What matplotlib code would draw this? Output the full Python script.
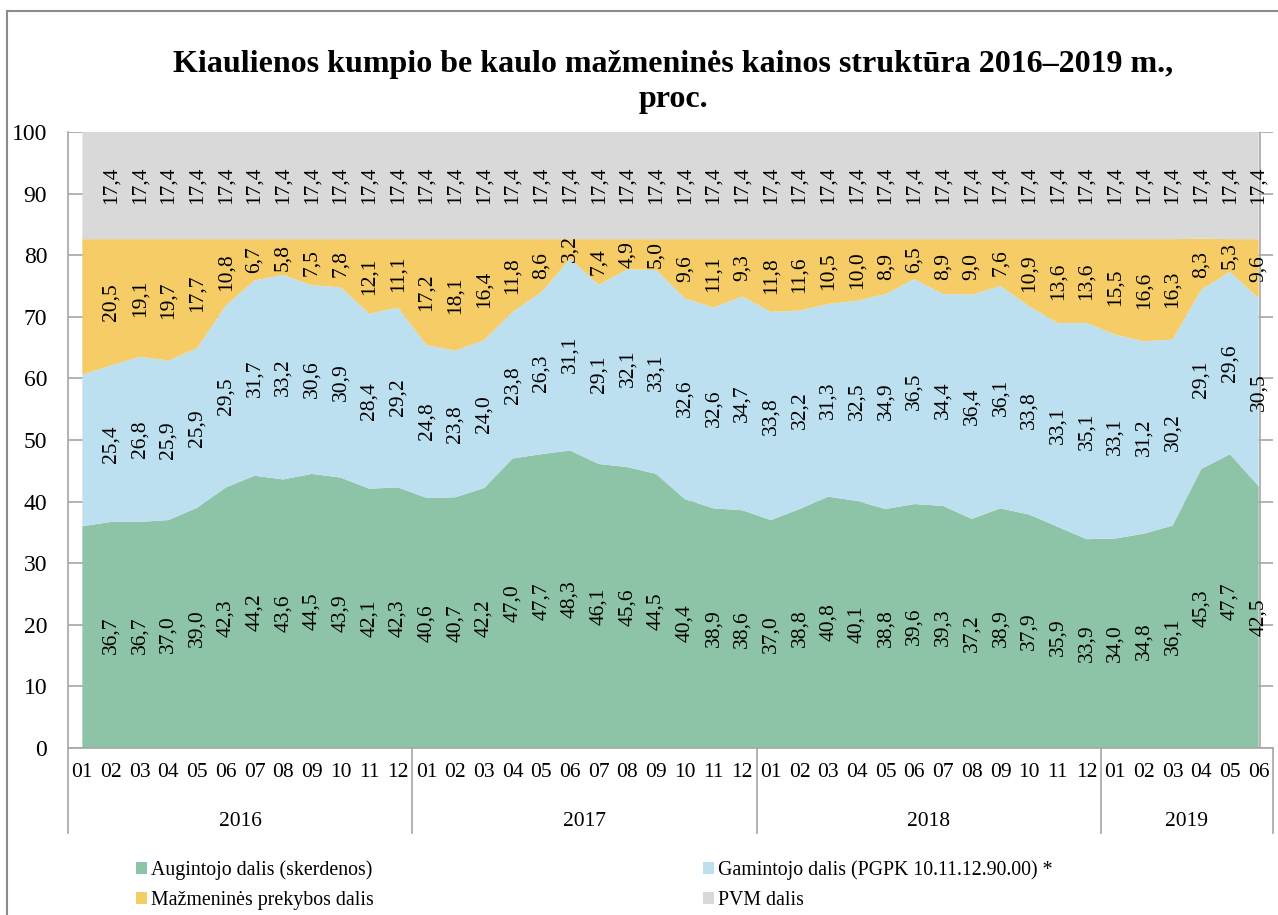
import matplotlib

matplotlib.use("Agg")
import matplotlib.pyplot as plt
from matplotlib.patches import Rectangle

plt.rcParams["font.family"] = ["Liberation Serif", "DejaVu Serif"]

years = ["2016", "2017", "2018", "2019"]
months_per_year = [12, 12, 12, 6]

# first point (2016-01) has no data label in the source chart
augintojo = [
    36.0, 36.7, 36.7, 37.0, 39.0, 42.3, 44.2, 43.6, 44.5, 43.9, 42.1, 42.3,
    40.6, 40.7, 42.2, 47.0, 47.7, 48.3, 46.1, 45.6, 44.5, 40.4, 38.9, 38.6,
    37.0, 38.8, 40.8, 40.1, 38.8, 39.6, 39.3, 37.2, 38.9, 37.9, 35.9, 33.9,
    34.0, 34.8, 36.1, 45.3, 47.7, 42.5,
]
gamintojo = [
    24.6, 25.4, 26.8, 25.9, 25.9, 29.5, 31.7, 33.2, 30.6, 30.9, 28.4, 29.2,
    24.8, 23.8, 24.0, 23.8, 26.3, 31.1, 29.1, 32.1, 33.1, 32.6, 32.6, 34.7,
    33.8, 32.2, 31.3, 32.5, 34.9, 36.5, 34.4, 36.4, 36.1, 33.8, 33.1, 35.1,
    33.1, 31.2, 30.2, 29.1, 29.6, 30.5,
]
prekybos = [
    22.0, 20.5, 19.1, 19.7, 17.7, 10.8, 6.7, 5.8, 7.5, 7.8, 12.1, 11.1,
    17.2, 18.1, 16.4, 11.8, 8.6, 3.2, 7.4, 4.9, 5.0, 9.6, 11.1, 9.3,
    11.8, 11.6, 10.5, 10.0, 8.9, 6.5, 8.9, 9.0, 7.6, 10.9, 13.6, 13.6,
    15.5, 16.6, 16.3, 8.3, 5.3, 9.6,
]
pvm = [17.4] * 42

series_names = [
    "Augintojo dalis (skerdenos)",
    "Gamintojo dalis (PGPK 10.11.12.90.00) *",
    "Mažmeninės prekybos dalis",
    "PVM dalis",
]
colors = ["#8DC3A7", "#BDE0F0", "#F5CC66", "#D9D9D9"]
grid_color = "#A6A6A6"

month_labels = []
for n in months_per_year:
    month_labels += [f"{m:02d}" for m in range(1, n + 1)]
x = list(range(len(month_labels)))

fig = plt.figure(figsize=(12.78, 9.15), dpi=100)
fig.patches.append(
    Rectangle((7 / 1278, -0.05), 1.1, 1 - 11 / 915 + 0.05,
              transform=fig.transFigure, fill=False,
              edgecolor="#8C8C8C", lw=1.5, zorder=0)
)
ax = fig.add_axes([68 / 1278, 1 - 748 / 915, 1205 / 1278, 616 / 915])

data = [augintojo, gamintojo, prekybos, pvm]
polys = ax.stackplot(x, *data, colors=colors, labels=series_names, zorder=2)

ax.set_xlim(-0.5, len(x) - 0.5)
ax.set_ylim(0, 100)
ax.set_yticks(range(0, 101, 10))
ax.grid(axis="y", color=grid_color, lw=1.2, zorder=0)
ax.set_axisbelow(True)
for side in ["top", "right", "bottom"]:
    ax.spines[side].set_visible(False)
ax.spines["left"].set_color(grid_color)
ax.spines["left"].set_linewidth(1.2)
ax.axhline(0, color=grid_color, lw=1.2, zorder=3, clip_on=False)
ax.axvline(x[-1] + 0.05, color=grid_color, lw=1.2, zorder=3)
ax.tick_params(axis="y", length=0, pad=15, labelsize=17)
ax.tick_params(axis="x", length=0, labelbottom=False)

# data labels, centred in every band
bottom = [0.0] * len(x)
for values in data:
    for i, v in enumerate(values):
        if i > 0:
            ax.text(i, bottom[i] + v / 2, f"{v:.1f}".replace(".", ","),
                    rotation=90, ha="center", va="center", fontsize=15.5,
                    zorder=5)
        bottom[i] += v

# two-level category axis
trans = ax.get_xaxis_transform()
for i, lab in enumerate(month_labels):
    ax.text(i, -0.039, lab, transform=trans, ha="center", va="center",
            fontsize=15.5, clip_on=False)
start = 0
edges = [-0.5]
for year, n in zip(years, months_per_year):
    ax.text(start + (n - 1) / 2, -0.12, year, transform=trans,
            ha="center", va="center", fontsize=15.5, clip_on=False)
    start += n
    edges.append(start - 0.5)
for e in edges:
    ax.plot([e, e], [0, -0.138], transform=trans, color=grid_color,
            lw=1.2, clip_on=False)

fig.text(673 / 1278, 1 - 82 / 915,
         "Kiaulienos kumpio be kaulo mažmeninės kainos struktūra 2016–2019 m.,\nproc.",
         ha="center", va="center", fontsize=23, fontweight="bold",
         linespacing=1.3)

handles = [polys[0], polys[2], polys[1], polys[3]]
labels = [series_names[0], series_names[2], series_names[1], series_names[3]]
fig.legend(handles, labels, loc="upper left",
           bbox_to_anchor=(136 / 1278, 1 - 860 / 915), ncol=2,
           frameon=False, fontsize=14.3, handlelength=0.55,
           handleheight=0.55, handletextpad=0.2, columnspacing=16.6,
           labelspacing=0.55, borderpad=0, borderaxespad=0)

fig.savefig("out.png", dpi=100)
